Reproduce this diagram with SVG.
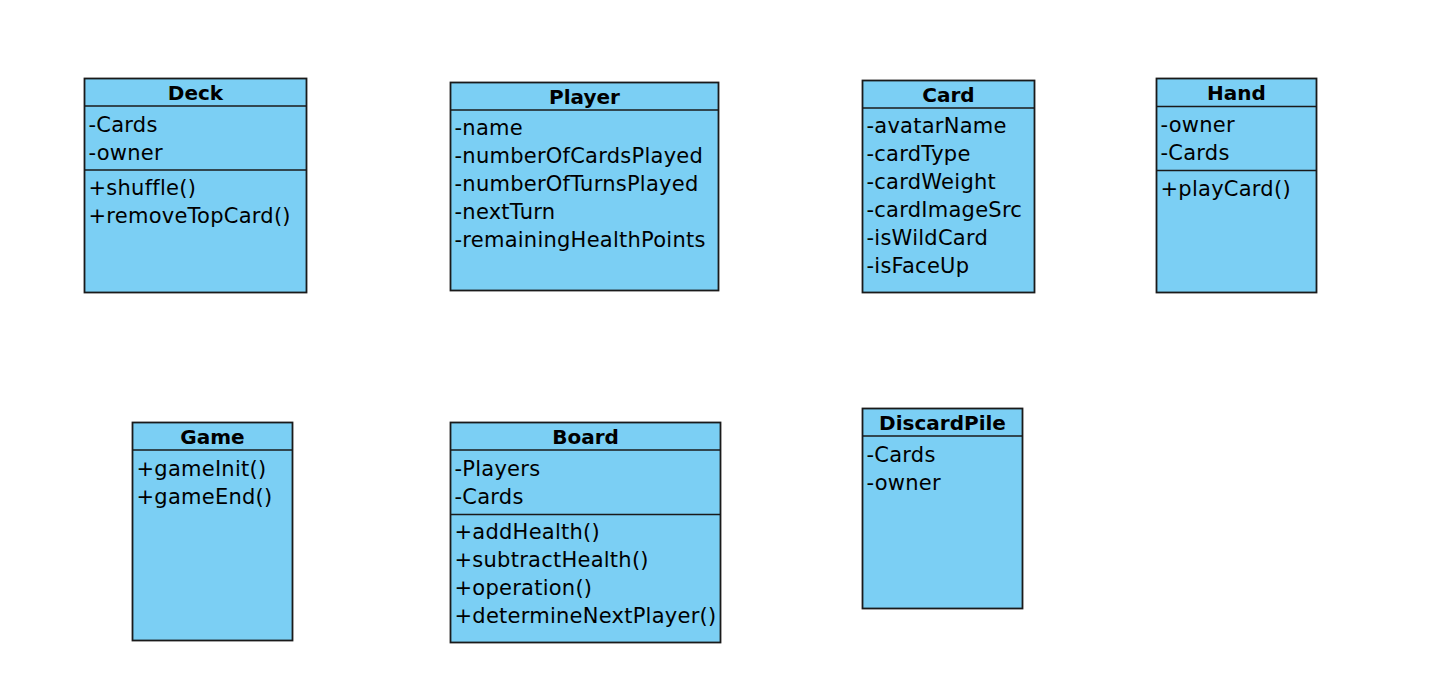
<svg xmlns="http://www.w3.org/2000/svg" width="1430" height="690" viewBox="0 0 1430 690">
<style>
.box{fill:#7bcff4;stroke:#1a1a1a;stroke-width:1.8}
.ln{stroke:#1a1a1a;stroke-width:1.6}
.t{font-family:"DejaVu Sans","Liberation Sans",sans-serif;font-size:21px;letter-spacing:0.25px;fill:#000}
.h{font-family:"DejaVu Sans","Liberation Sans",sans-serif;font-size:20px;font-weight:bold;fill:#000;text-anchor:middle}
</style>
<rect width="1430" height="690" fill="#ffffff"/>
<g id="connectors"></g>
<g id="Deck">
<rect class="box" x="84.5" y="78.5" width="222" height="214"/>
<line class="ln" x1="84.5" y1="106" x2="306.5" y2="106"/>
<line class="ln" x1="84.5" y1="170" x2="306.5" y2="170"/>
<text class="h" x="195.5" y="99.5">Deck</text>
<text class="t" x="88.5" y="132">-Cards</text>
<text class="t" x="88.5" y="160">-owner</text>
<text class="t" x="88.5" y="195">+shuffle()</text>
<text class="t" x="88.5" y="223">+removeTopCard()</text>
</g>
<g id="Player">
<rect class="box" x="450.5" y="82.5" width="268" height="208"/>
<line class="ln" x1="450.5" y1="110" x2="718.5" y2="110"/>
<text class="h" x="584.5" y="103.5">Player</text>
<text class="t" x="454.5" y="135">-name</text>
<text class="t" x="454.5" y="163">-numberOfCardsPlayed</text>
<text class="t" x="454.5" y="191">-numberOfTurnsPlayed</text>
<text class="t" x="454.5" y="219">-nextTurn</text>
<text class="t" x="454.5" y="247">-remainingHealthPoints</text>
</g>
<g id="Card">
<rect class="box" x="862.5" y="80.5" width="172" height="212"/>
<line class="ln" x1="862.5" y1="108" x2="1034.5" y2="108"/>
<text class="h" x="948.5" y="101.5">Card</text>
<text class="t" x="866.5" y="133">-avatarName</text>
<text class="t" x="866.5" y="161">-cardType</text>
<text class="t" x="866.5" y="189">-cardWeight</text>
<text class="t" x="866.5" y="217">-cardImageSrc</text>
<text class="t" x="866.5" y="245">-isWildCard</text>
<text class="t" x="866.5" y="273">-isFaceUp</text>
</g>
<g id="Hand">
<rect class="box" x="1156.5" y="78.5" width="160" height="214"/>
<line class="ln" x1="1156.5" y1="106.5" x2="1316.5" y2="106.5"/>
<line class="ln" x1="1156.5" y1="170.5" x2="1316.5" y2="170.5"/>
<text class="h" x="1236.5" y="99.5">Hand</text>
<text class="t" x="1160.5" y="132">-owner</text>
<text class="t" x="1160.5" y="160">-Cards</text>
<text class="t" x="1160.5" y="196">+playCard()</text>
</g>
<g id="Game">
<rect class="box" x="132.5" y="422.5" width="160" height="218"/>
<line class="ln" x1="132.5" y1="450" x2="292.5" y2="450"/>
<text class="h" x="212.5" y="443.5">Game</text>
<text class="t" x="136.5" y="476">+gameInit()</text>
<text class="t" x="136.5" y="504">+gameEnd()</text>
</g>
<g id="Board">
<rect class="box" x="450.5" y="422.5" width="270" height="220"/>
<line class="ln" x1="450.5" y1="450" x2="720.5" y2="450"/>
<line class="ln" x1="450.5" y1="514.5" x2="720.5" y2="514.5"/>
<text class="h" x="585.5" y="443.5">Board</text>
<text class="t" x="454.5" y="476">-Players</text>
<text class="t" x="454.5" y="504">-Cards</text>
<text class="t" x="454.5" y="539">+addHealth()</text>
<text class="t" x="454.5" y="567">+subtractHealth()</text>
<text class="t" x="454.5" y="595">+operation()</text>
<text class="t" x="454.5" y="623">+determineNextPlayer()</text>
</g>
<g id="DiscardPile">
<rect class="box" x="862.5" y="408.5" width="160" height="200"/>
<line class="ln" x1="862.5" y1="436" x2="1022.5" y2="436"/>
<text class="h" x="942.5" y="429.5">DiscardPile</text>
<text class="t" x="866.5" y="462">-Cards</text>
<text class="t" x="866.5" y="490">-owner</text>
</g>
</svg>
